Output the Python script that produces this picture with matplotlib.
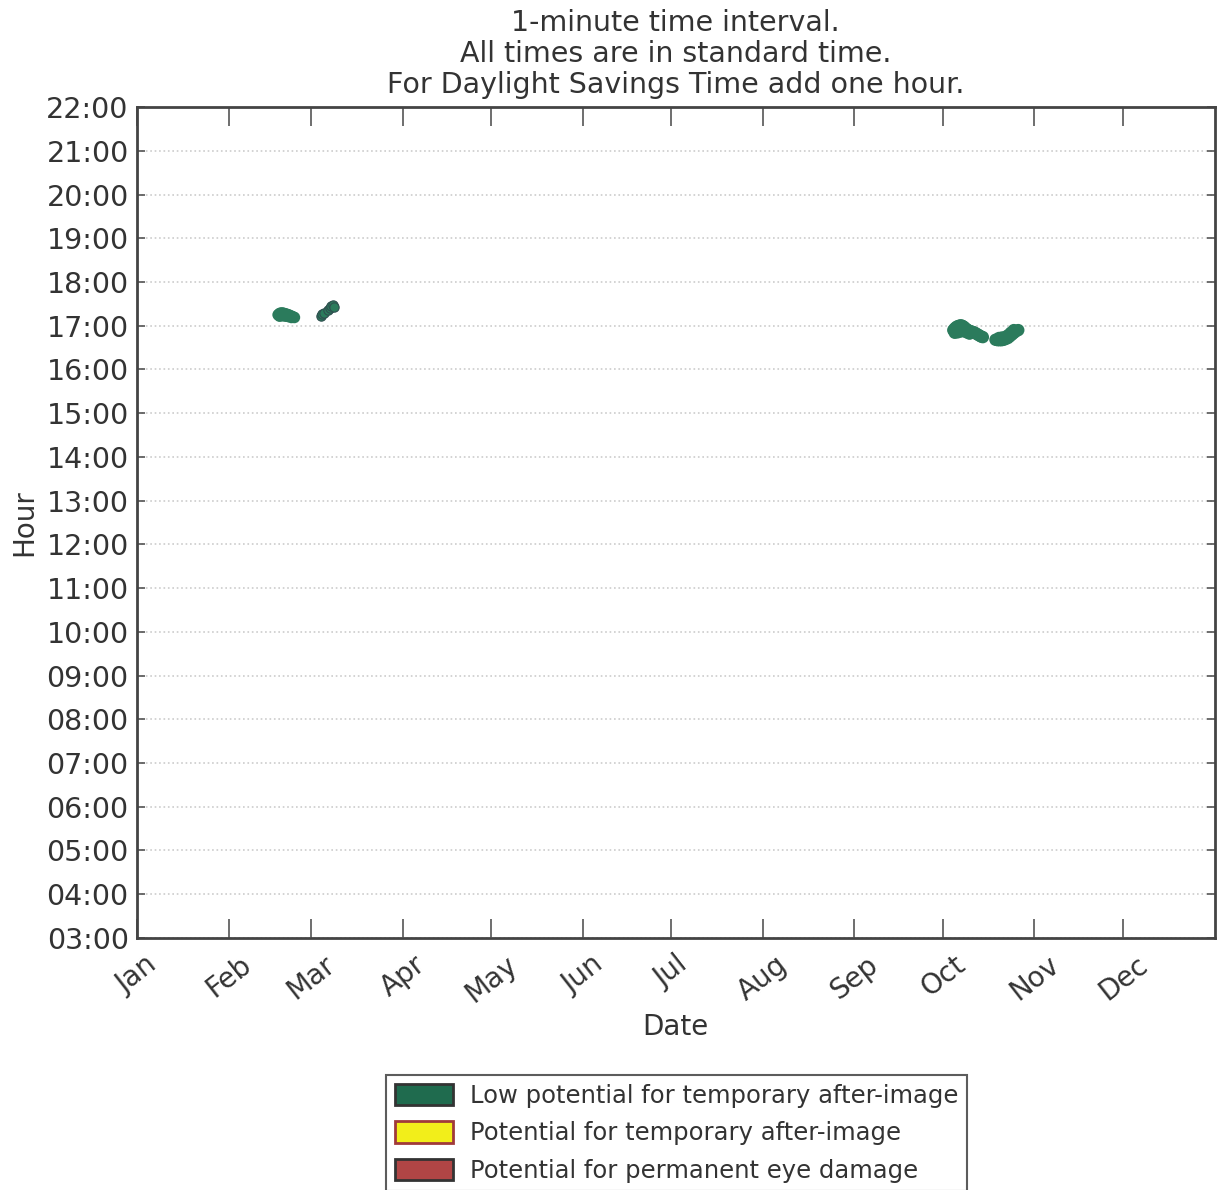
import matplotlib
matplotlib.use('Agg')
import matplotlib.pyplot as plt
import matplotlib.patches as mpatches

# glare occurrences: day of year, hour (standard time)
feb_days = [47.8, 48.3, 48.8, 49.3, 49.8, 50.3, 50.8, 51.3, 51.8, 52.3, 52.8, 53.3,
            48.3, 49.3, 50.3, 51.3, 52.3]
feb_hours = [17.25, 17.28, 17.29, 17.29, 17.28, 17.27, 17.26, 17.25, 17.23, 17.22, 17.20, 17.19,
             17.22, 17.23, 17.22, 17.21, 17.19]
mar_days = [62.2, 62.8, 63.4, 64.6, 65.2, 65.8, 66.3, 66.8]
mar_hours = [17.22, 17.27, 17.30, 17.35, 17.40, 17.45, 17.48, 17.44]
oct_days = [276.5, 277.0, 277.5, 278.0, 278.5, 279.0, 279.5, 280.0, 280.5, 281.0, 281.5,
            282.0, 282.5, 283.0, 283.5, 284.0, 284.5, 285.0, 285.5, 286.0, 286.5,
            277.0, 278.0, 279.0, 280.0, 281.0, 282.0,
            290.8, 291.5, 292.2, 292.9, 293.6, 294.3, 295.0, 295.7, 296.4, 297.1, 297.8, 298.5,
            292.0, 293.0, 294.0, 295.0, 296.0, 297.0]
oct_hours = [16.90, 16.94, 16.97, 16.99, 17.00, 17.01, 17.00, 16.98, 16.95, 16.92, 16.90,
             16.88, 16.87, 16.86, 16.85, 16.83, 16.81, 16.79, 16.77, 16.75, 16.74,
             16.84, 16.85, 16.87, 16.88, 16.85, 16.82,
             16.68, 16.67, 16.67, 16.67, 16.68, 16.70, 16.72, 16.76, 16.80, 16.84, 16.88, 16.90,
             16.72, 16.73, 16.74, 16.78, 16.84, 16.90]

month_labels = ['Jan', 'Feb', 'Mar', 'Apr', 'May', 'Jun', 'Jul', 'Aug', 'Sep', 'Oct', 'Nov', 'Dec']
month_start = [0, 31, 59, 90, 120, 151, 181, 212, 243, 273, 304, 334]
hours = list(range(3, 23))

txt = '#333333'
green = '#2b7b5c'

fig = plt.figure(figsize=(12.17, 11.9), dpi=100)
ax = fig.add_axes([0.1126, 0.2118, 0.8854, 0.6982])

ax.scatter(feb_days, feb_hours, s=70, color=green, edgecolors='none', zorder=3)
ax.scatter(mar_days, mar_hours, s=45, color=green, edgecolors='#2f4f4f', linewidths=0.8, zorder=3)
ax.scatter(oct_days, oct_hours, s=80, color=green, edgecolors='none', zorder=3)

ax.set_xlim(0, 365)
ax.set_ylim(3, 22)
ax.set_xticks(month_start)
ax.set_xticklabels(month_labels, rotation=38, ha='center', fontsize=20, color=txt)
ax.set_yticks(hours)
ax.set_yticklabels(['%02d:00' % h for h in hours], fontsize=20.5, color=txt)
ax.tick_params(direction='in', length=14, width=1.2, colors='#555555', top=True, right=True,
               labelcolor=txt, pad=6)
ax.tick_params(axis='x', pad=9)
ax.tick_params(axis='y', length=6)
ax.yaxis.grid(True, linestyle=':', color='#cccccc', linewidth=1.2)
for sp in ax.spines.values():
    sp.set_color('#444444')
    sp.set_linewidth(2)

ax.set_xlabel('Date', fontsize=20, color=txt, labelpad=4)
ax.set_ylabel('Hour', fontsize=20, color=txt, labelpad=6)
ax.set_title('1-minute time interval.\nAll times are in standard time.\nFor Daylight Savings Time add one hour.',
             fontsize=20.5, color=txt, linespacing=1.13, pad=10)

handles = [
    mpatches.Patch(facecolor='#1f6b4e', edgecolor='#333333', linewidth=2,
                   label='Low potential for temporary after-image'),
    mpatches.Patch(facecolor='#f2ee1a', edgecolor='#a03a3a', linewidth=2,
                   label='Potential for temporary after-image'),
    mpatches.Patch(facecolor='#b04545', edgecolor='#333333', linewidth=2,
                   label='Potential for permanent eye damage'),
]
leg = fig.legend(handles=handles, loc='upper center', bbox_to_anchor=(0.556, 0.0966),
                 fontsize=17.5, frameon=True, fancybox=False, handlelength=2.4,
                 handleheight=1.0, labelspacing=0.55, borderpad=0.35, borderaxespad=0,
                 handletextpad=0.7)
leg.get_frame().set_edgecolor('#333333')
leg.get_frame().set_linewidth(1.5)
for t in leg.get_texts():
    t.set_color(txt)

fig.savefig('out.png', dpi=100)
